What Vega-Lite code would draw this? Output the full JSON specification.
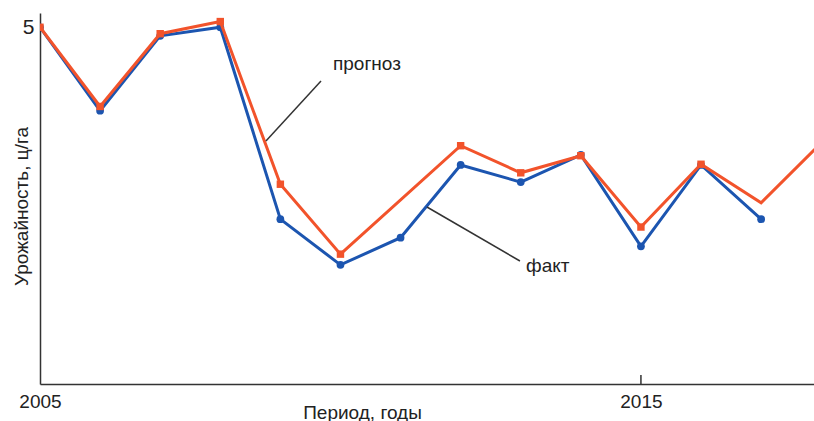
{
  "$schema": "https://vega.github.io/schema/vega-lite/v6.json",
  "width": 774,
  "height": 371,
  "autosize": "none",
  "padding": {"left": 40, "top": 13, "right": 0, "bottom": 37},
  "background": "white",
  "config": {
    "view": {"stroke": null},
    "font": "Liberation Sans",
    "axis": {"grid": false, "domainColor": "#333333", "domainWidth": 1.5, "labelColor": "#222222", "titleColor": "#222222", "labelFont": "Liberation Sans", "titleFont": "Liberation Sans", "titleFontWeight": "normal"}
  },
  "datasets": {
    "series": [
      {"series": "факт", "year": 2005, "value": 5.0},
      {"series": "факт", "year": 2006, "value": 3.83},
      {"series": "факт", "year": 2007, "value": 4.88},
      {"series": "факт", "year": 2008, "value": 5.0},
      {"series": "факт", "year": 2009, "value": 2.31},
      {"series": "факт", "year": 2010, "value": 1.67},
      {"series": "факт", "year": 2011, "value": 2.05},
      {"series": "факт", "year": 2012, "value": 3.07},
      {"series": "факт", "year": 2013, "value": 2.83},
      {"series": "факт", "year": 2014, "value": 3.21},
      {"series": "факт", "year": 2015, "value": 1.93},
      {"series": "факт", "year": 2016, "value": 3.07},
      {"series": "факт", "year": 2017, "value": 2.31},
      {"series": "прогноз", "year": 2005, "value": 5.0},
      {"series": "прогноз", "year": 2006, "value": 3.89},
      {"series": "прогноз", "year": 2007, "value": 4.91},
      {"series": "прогноз", "year": 2008, "value": 5.08},
      {"series": "прогноз", "year": 2009, "value": 2.8},
      {"series": "прогноз", "year": 2010, "value": 1.82},
      {"series": "прогноз", "year": 2012, "value": 3.34},
      {"series": "прогноз", "year": 2013, "value": 2.96},
      {"series": "прогноз", "year": 2014, "value": 3.2},
      {"series": "прогноз", "year": 2015, "value": 2.2},
      {"series": "прогноз", "year": 2016, "value": 3.08},
      {"series": "прогноз", "year": 2017, "value": 2.54},
      {"series": "прогноз", "year": 2018, "value": 3.38}
    ],
    "leaders": [
      {"label": "прогноз", "year": 2009.676, "value": 4.247, "year2": 2008.76, "value2": 3.406},
      {"label": "факт", "year": 2011.439, "value": 2.481, "year2": 2012.987, "value2": 1.724},
      {"label": "tick", "year": 2015, "value": 0, "year2": 2015, "value2": 0.126}
    ],
    "labels": [
      {"label": "прогноз", "year": 2010.44, "value": 4.4},
      {"label": "факт", "year": 2013.45, "value": 1.57}
    ]
  },
  "layer": [
    {
      "data": {"name": "series"},
      "transform": [{"filter": "datum.series === 'факт'"}],
      "mark": {"type": "line", "color": "#1c55b0", "strokeWidth": 3, "clip": true},
      "encoding": {
        "x": {"field": "year", "type": "quantitative", "title": "Период, годы",
          "scale": {"domain": [2005, 2017.88], "nice": false, "zero": false},
          "axis": {"values": [2005, 2015], "format": "d", "ticks": false, "tickSize": 0, "labelFlush": false, "labelFontSize": 19, "labelPadding": 23, "labelBaseline": "alphabetic", "titleFontSize": 19, "titleX": 322, "titleY": 34, "titleBaseline": "alphabetic", "titleAnchor": null, "titleAlign": "center"}},
        "y": {"field": "value", "type": "quantitative", "title": "Урожайность, ц/га",
          "scale": {"domain": [0, 5.2], "nice": false},
          "axis": {"values": [5], "format": "d", "ticks": false, "labelFlush": false, "labelFontSize": 21, "labelPadding": 6, "titleFontSize": 19, "titleAngle": -90, "titleX": -19, "titleY": 193, "titleBaseline": "middle", "titleAlign": "center", "titleAnchor": null}}
      }
    },
    {
      "data": {"name": "series"},
      "transform": [{"filter": "datum.series === 'факт'"}],
      "mark": {"type": "point", "shape": "circle", "filled": true, "opacity": 1, "color": "#1c55b0", "size": 60, "clip": true},
      "encoding": {
        "x": {"field": "year", "type": "quantitative"},
        "y": {"field": "value", "type": "quantitative"}
      }
    },
    {
      "data": {"name": "series"},
      "transform": [{"filter": "datum.series === 'прогноз'"}],
      "mark": {"type": "line", "color": "#f2532b", "strokeWidth": 3, "clip": true},
      "encoding": {
        "x": {"field": "year", "type": "quantitative"},
        "y": {"field": "value", "type": "quantitative"}
      }
    },
    {
      "data": {"name": "series"},
      "transform": [{"filter": "datum.series === 'прогноз' && datum.year < 2017"}],
      "mark": {"type": "point", "shape": "square", "filled": true, "opacity": 1, "color": "#f2532b", "size": 55, "clip": true},
      "encoding": {
        "x": {"field": "year", "type": "quantitative"},
        "y": {"field": "value", "type": "quantitative"}
      }
    },
    {
      "data": {"name": "leaders"},
      "mark": {"type": "rule", "color": "#333333", "strokeWidth": 1.5},
      "encoding": {
        "x": {"field": "year", "type": "quantitative"},
        "y": {"field": "value", "type": "quantitative"},
        "x2": {"field": "year2"},
        "y2": {"field": "value2"}
      }
    },
    {
      "data": {"name": "labels"},
      "mark": {"type": "text", "fontSize": 19, "color": "#222222", "font": "Liberation Sans", "align": "center", "baseline": "alphabetic"},
      "encoding": {
        "x": {"field": "year", "type": "quantitative"},
        "y": {"field": "value", "type": "quantitative"},
        "text": {"field": "label"}
      }
    }
  ]
}
